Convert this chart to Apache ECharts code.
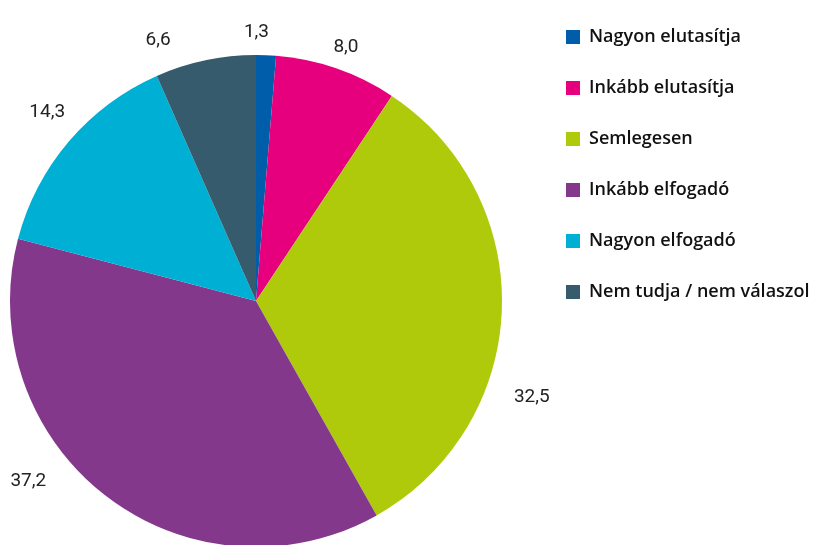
<!DOCTYPE html>
<html>
<head>
<meta charset="utf-8">
<script src="https://cdn.jsdelivr.net/npm/echarts@6/dist/echarts.min.js"></script>
<style>
  html, body { margin: 0; padding: 0; background: #fff; }
  #chart { width: 833px; height: 545px; }
</style>
</head>
<body>
<div id="chart"></div>
<script>
// válaszkategóriák és százalékok
const categories = ['Nagyon elutasítja', 'Inkább elutasítja', 'Semlegesen', 'Inkább elfogadó', 'Nagyon elfogadó', 'Nem tudja / nem válaszol'];
const values = [1.3, 8.0, 32.5, 37.2, 14.3, 6.6];
const colors = ['#005DAA', '#E6007E', '#AFCA0B', '#84388C', '#00B0D4', '#365B6D'];

// címkék finomhangolása (Excel-szerű elhelyezés)
const labelNudge = [[-11, 12], [-2, 12], [-5, 86], [-56, -42], [5, -6], [-40, 14]];

const chart = echarts.init(document.getElementById('chart'));

const pieData = categories.map((name, i) => ({ name: name, value: values[i] }));
const labelData = categories.map((name, i) => ({
  name: name,
  value: values[i],
  label: { offset: labelNudge[i] }
}));
const fmt = p => p.value.toFixed(1).replace('.', ',');

const option = {
  animation: false,
  color: colors,
  legend: {
    orient: 'vertical',
    left: 566,
    top: 28,
    padding: 0,
    itemWidth: 14,
    itemHeight: 14,
    itemGap: 33,
    icon: 'rect',
    data: categories,
    textStyle: {
      fontFamily: 'Open Sans',
      fontWeight: 600,
      fontSize: 18,
      color: '#111',
      padding: [0, 0, 0, 4]
    }
  },
  series: [
    {
      type: 'pie',
      center: [256, 301],
      radius: [0, 246],
      startAngle: 90,
      clockwise: true,
      silent: true,
      label: { show: false },
      labelLine: { show: false },
      data: pieData
    },
    {
      // átlátszó gyűrű a címkék elhelyezéséhez
      type: 'pie',
      center: [256, 301],
      radius: [246, 310],
      startAngle: 90,
      clockwise: true,
      silent: true,
      itemStyle: { color: 'rgba(0,0,0,0)' },
      label: {
        show: true,
        position: 'inside',
        formatter: fmt,
        fontFamily: 'Roboto',
        fontSize: 19,
        color: '#222'
      },
      labelLine: { show: false },
      data: labelData
    }
  ]
};

chart.setOption(option);
</script>
</body>
</html>
